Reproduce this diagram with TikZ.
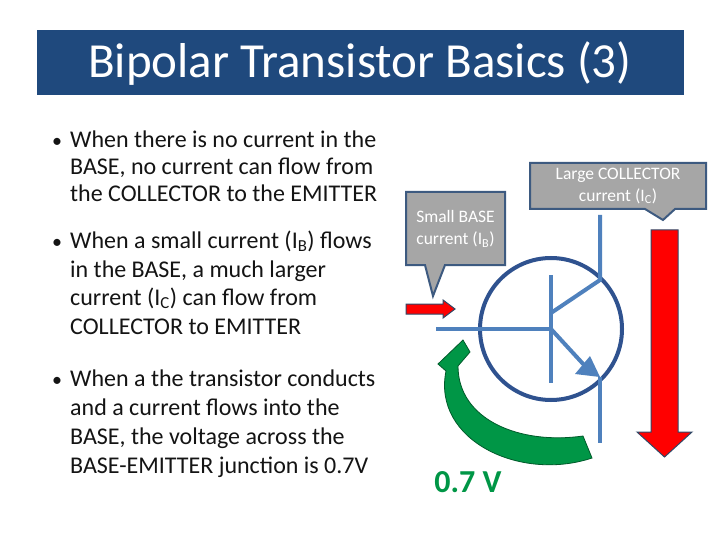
\documentclass[tikz,border=0pt]{standalone}
\usepackage{fontspec}
\setmainfont{Carlito}
\begin{document}
\begin{tikzpicture}[x=1pt,y=-1pt]
\definecolor{titlebg}{RGB}{31,73,125}
\definecolor{tline}{RGB}{79,129,189}
\definecolor{tcirc}{RGB}{47,82,143}
\definecolor{cgray}{RGB}{166,166,166}
\definecolor{cbord}{RGB}{61,90,128}
\definecolor{vgreen}{RGB}{0,150,70}
\definecolor{txt}{RGB}{20,20,20}
\tikzset{
  bl/.style={anchor=base west,inner sep=0pt,font=\fontsize{24}{28}\selectfont,text=txt},
  callout/.style={fill=cgray,draw=cbord,line width=2pt,line join=miter},
  ctext/.style={text=white,font=\fontsize{17.5}{22}\selectfont,align=center,inner sep=0pt},
  tr/.style={draw=tline,line width=4pt},
  redarr/.style={fill=red,draw=cbord!80!black,line width=1pt,line join=miter}
}
\useasboundingbox (0,0) rectangle (720,540);
\fill[white] (0,0) rectangle (720,540);
\node[fill=titlebg,minimum width=647pt,minimum height=65pt,anchor=north west,inner sep=0pt] (tbar) at (37,30) {};
\node[text=white,font=\fontsize{49}{56}\selectfont] (title) at (360,64) {Bipolar Transistor Basics (3)};
% bullets
\foreach \y/\n in {148/d1,248/d2,386/d3}{\node[bl,font=\fontsize{20}{24}\selectfont] (\n) at (52,\y) {•};}
\node[bl] (a1) at (70,148) {When there is no current in the};
\node[bl] (a2) at (70,175) {BASE, no current can flow from};
\node[bl] (a3) at (70,202) {the COLLECTOR to the EMITTER};
\node[bl] (b1) at (70,248) {When a small current (I\textsubscript{B}) flows};
\node[bl] (b2) at (70,277) {in the BASE, a much larger};
\node[bl] (b3) at (70,305) {current (I\textsubscript{C}) can flow from};
\node[bl] (b4) at (70,334) {COLLECTOR to EMITTER};
\node[bl] (c1) at (70,386) {When a the transistor conducts};
\node[bl] (c2) at (70,415) {and a current flows into the};
\node[bl] (c3) at (70,444) {BASE, the voltage across the};
\node[bl] (c4) at (70,473) {BASE-EMITTER junction is 0.7V};
% transistor
\draw[draw=tcirc,line width=4pt] (551,329) circle (71);
\coordinate (bin) at (436,329);
\coordinate (bj) at (551,329);
\coordinate (ck) at (600,280);
\coordinate (ek) at (600,377);
\draw[tr] (bin) -- (bj);
\draw[tr] (551,275) -- (551,383);
\draw[tr] (551,313) -- (ck) -- (600,215);
\draw[tr] (bj) -- (585,366);
\draw[tr] (ek) -- (600,443);
\fill[tline] (ek) -- (575,374) -- (590,356) -- cycle;
% callouts
\draw[callout] (406,192) -- (505,192) -- (505,265) -- (445,265) -- (433,296) -- (425,265) -- (406,265) -- cycle;
\node[ctext] (cb) at (455.5,229) {Small BASE\\current (I\textsubscript{B})};
\draw[callout] (530,163) -- (706,163) -- (706,209) -- (675,209) -- (663,220) -- (645,209) -- (530,209) -- cycle;
\node[ctext] (cc) at (618,186) {Large COLLECTOR\\current (I\textsubscript{C})};
% red arrows
\draw[redarr] (406,304) -- (443,304) -- (443,300) -- (455,309) -- (443,318) -- (443,314) -- (406,314) -- cycle;
\draw[redarr] (651,230) -- (678,230) -- (678,432) -- (692,432) -- (664.5,457) -- (637,432) -- (651,432) -- cycle;
% green arrow
\filldraw[fill=vgreen,draw=vgreen!60!black,line width=0.8pt] (463,340) -- (470,352) -- (458,366) .. controls (458,420) and (520,445) .. (583,436) -- (592,458) .. controls (520,482) and (432,440) .. (446,371) -- (438,364) -- cycle;
\node[text=vgreen,font=\fontsize{32}{36}\selectfont\bfseries] (v) at (468,482) {0.7 V};
\end{tikzpicture}
\end{document}
